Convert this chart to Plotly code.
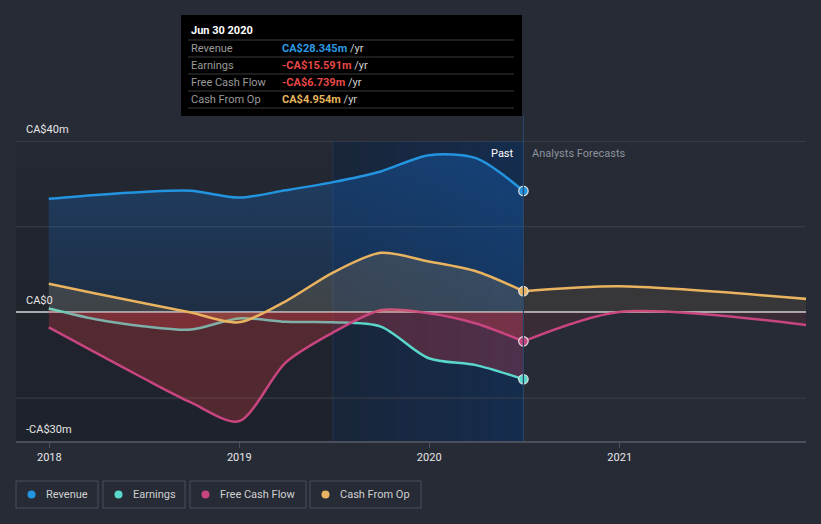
import plotly.graph_objects as go
import pandas as pd

# ---------------- data ----------------
past_dates = ["2017-12-31", "2018-03-31", "2018-06-30", "2018-09-30", "2018-12-31",
              "2019-03-31", "2019-06-30", "2019-09-30", "2019-12-31", "2020-03-31",
              "2020-06-30"]
revenue = [26.5, 27.4, 28.1, 28.4, 26.8, 28.5, 30.4, 32.9, 36.7, 36.0, 28.345]
earnings = [0.9, -1.6, -3.2, -4.0, -1.4, -2.2, -2.3, -3.3, -10.7, -12.3, -15.591]
free_cash_flow = [-3.5, -9.4, -15.3, -21.0, -25.4, -11.7, -4.7, 0.5, -0.2, -2.6, -6.739]
cash_from_op = [6.7, 4.4, 2.2, 0.0, -2.3, 2.6, 9.3, 13.9, 11.9, 9.6, 4.954]

forecast_dates = ["2020-12-31", "2021-12-31"]
free_cash_flow_fc = [0.1, -3.0]
cash_from_op_fc = [6.1, 3.1]

series_names = ["Revenue", "Earnings", "Free Cash Flow", "Cash From Op"]
tooltip_title = "Jun 30 2020"
tooltip_values = ["CA$28.345m", "-CA$15.591m", "-CA$6.739m", "CA$4.954m"]
highlight_start = "2019-06-30"

y_tickvals = [-30, 0, 40]
y_ticktext = ["-CA$30m", "CA$0", "CA$40m"]
y_gridvals = [-20, 20, 40]
x_tickvals = ["2018-01-01", "2019-01-01", "2020-01-01", "2021-01-01"]
x_ticktext = ["2018", "2019", "2020", "2021"]
x_range = ["2017-10-29", "2021-12-25"]
y_range = [-30, 40]

# ---------------- style ----------------
W, H = 821, 524
ML, MR, MT, MB = 16, 15, 141, 83
BG = "#262b36"
FONT = "Roboto"
FS = 11
C_REV = "#2394df"
C_EARN = "#5ad8cc"
C_FCF = "#c8457f"
C_CFO = "#e9b35f"
series_colors = [C_REV, C_EARN, C_FCF, C_CFO]
value_colors = ["#2d9ae5", "#e84848", "#e84848", "#e6b45c"]


def px(x):
    return (x - ML) / (W - ML - MR)


def py(y):
    return (H - MB - y) / (H - MT - MB)


fig = go.Figure()

last = past_dates[-1]
LINE = dict(width=2.5, shape="spline", smoothing=0.8)

# Revenue
fig.add_trace(go.Scatter(x=past_dates, y=revenue, mode="lines", line=dict(color=C_REV, **LINE),
                         fill="tozeroy",
                         fillgradient=dict(type="vertical", start=0, stop=38,
                                           colorscale=[[0, "rgba(20,125,240,0.12)"], [1, "rgba(20,125,240,0.27)"]]),
                         hoverinfo="skip"))
# Earnings
fig.add_trace(go.Scatter(x=past_dates, y=earnings, mode="lines", line=dict(color=C_EARN, **LINE),
                         fill="tozeroy", fillcolor="rgba(230,60,70,0.27)", hoverinfo="skip"))
# Free cash flow
fig.add_trace(go.Scatter(x=past_dates, y=free_cash_flow, mode="lines", line=dict(color=C_FCF, **LINE),
                         fill="tozeroy", fillcolor="rgba(230,60,70,0.26)", hoverinfo="skip"))
fig.add_trace(go.Scatter(x=[last] + forecast_dates, y=[free_cash_flow[-1]] + free_cash_flow_fc, mode="lines",
                         line=dict(color=C_FCF, **LINE),
                         fill="tozeroy", fillcolor="rgba(230,60,70,0.10)", hoverinfo="skip"))
# Cash from op
fig.add_trace(go.Scatter(x=past_dates, y=cash_from_op, mode="lines", line=dict(color=C_CFO, **LINE),
                         fill="tozeroy", fillcolor="rgba(232,177,94,0.16)", hoverinfo="skip"))
fig.add_trace(go.Scatter(x=[last] + forecast_dates, y=[cash_from_op[-1]] + cash_from_op_fc, mode="lines",
                         line=dict(color=C_CFO, **LINE),
                         fill="tozeroy", fillcolor="rgba(232,177,94,0.09)", hoverinfo="skip"))

# end markers
for vals, col in zip([revenue, earnings, free_cash_flow, cash_from_op], series_colors):
    fig.add_trace(go.Scatter(x=[last], y=[vals[-1]], mode="markers",
                             marker=dict(size=9.5, color=col, line=dict(color="#e0e0e0", width=1.2)),
                             hoverinfo="skip"))

shapes = []
# darkened past region (vertical gradient, lighter at top)
n = 30
c0 = (37, 42, 53)
c1 = (30, 34, 42)
for i in range(n):
    t = ((i + 0.5) / n) ** 0.5
    c = tuple(int(round(c0[k] + (c1[k] - c0[k]) * t)) for k in range(3))
    shapes.append(dict(type="rect", xref="x", yref="paper", x0=x_range[0], x1=highlight_start,
                       y0=1 - (i + 1) / n, y1=1 - i / n,
                       fillcolor="rgb(%d,%d,%d)" % c, line=dict(width=0), layer="below"))
# highlighted last-year band
m = 12
edges2 = pd.date_range(pd.Timestamp(highlight_start), pd.Timestamp(last), periods=m + 1)
b0 = (25, 37, 58)
b1 = (21, 45, 78)
for i in range(m):
    t = (i + 0.5) / m
    c = tuple(int(round(b0[k] + (b1[k] - b0[k]) * t)) for k in range(3))
    shapes.append(dict(type="rect", xref="x", yref="paper", x0=edges2[i], x1=edges2[i + 1], y0=0, y1=1,
                       fillcolor="rgb(%d,%d,%d)" % c, line=dict(width=0), layer="below"))
shapes.append(dict(type="line", xref="x", yref="paper", x0=highlight_start, x1=highlight_start, y0=0, y1=1,
                   line=dict(color="#243650", width=1), layer="below"))
# horizontal gridlines
for g in y_gridvals:
    shapes.append(dict(type="line", xref="paper", yref="y", x0=0, x1=1, y0=g, y1=g,
                       line=dict(color="#3c414d" if g < y_range[1] else "#474c58", width=1), layer="below"))
# vertical line at current date
shapes.append(dict(type="line", xref="x", yref="paper", x0=last, x1=last, y0=0, y1=py(116),
                   line=dict(color="#2b4566", width=1.2)))

# tooltip box
shapes.append(dict(type="rect", xref="paper", yref="paper", x0=px(181), x1=px(522), y0=py(116), y1=py(15),
                   fillcolor="#000000", line=dict(width=0)))
for yy in [40, 57, 74, 91, 108]:
    shapes.append(dict(type="line", xref="paper", yref="paper", x0=px(188), x1=px(514), y0=py(yy), y1=py(yy),
                       line=dict(color="#3a3a3a", width=1)))

annotations = []
annotations.append(dict(xref="paper", yref="paper", x=px(189), y=py(31), xanchor="left", yanchor="middle",
                        text="<b>%s</b>" % tooltip_title, showarrow=False,
                        font=dict(family=FONT, size=FS, color="#ffffff")))
for i, (lab, val, vc) in enumerate(zip(series_names, tooltip_values, value_colors)):
    yy = 48.5 + 17 * i
    annotations.append(dict(xref="paper", yref="paper", x=px(189), y=py(yy), xanchor="left", yanchor="middle",
                            text=lab, showarrow=False, font=dict(family=FONT, size=FS, color="#9a9a9a")))
    annotations.append(dict(xref="paper", yref="paper", x=px(280), y=py(yy), xanchor="left", yanchor="middle",
                            text="<span style='color:%s'><b>%s</b></span> /yr" % (vc, val), showarrow=False,
                            font=dict(family=FONT, size=FS, color="#d0d0d0")))

# y-axis labels (drawn above their gridlines)
for v, t in zip(y_tickvals, y_ticktext):
    annotations.append(dict(xref="paper", yref="y", x=px(24), y=v, xanchor="left", yanchor="bottom", yshift=3,
                            text=t, showarrow=False, font=dict(family=FONT, size=FS, color="#e6e6e6")))

# Past / Analysts Forecasts
annotations.append(dict(xref="x", yref="paper", x=last, y=py(153), xanchor="right", yanchor="middle", xshift=-7,
                        text="Past", showarrow=False, font=dict(family=FONT, size=FS, color="#ffffff")))
annotations.append(dict(xref="x", yref="paper", x=last, y=py(153), xanchor="left", yanchor="middle", xshift=7,
                        text="Analysts Forecasts", showarrow=False, font=dict(family=FONT, size=FS, color="#8d929c")))

# custom legend
legend_boxes = [(16, 98), (103, 185), (190, 306), (310, 421)]
for (x0, x1), name, col in zip(legend_boxes, series_names, series_colors):
    shapes.append(dict(type="rect", xref="paper", yref="paper", x0=px(x0), x1=px(x1), y0=py(508), y1=py(481),
                       line=dict(color="#4a4f5b", width=1), fillcolor="rgba(0,0,0,0)"))
    cx = x0 + 15.5
    shapes.append(dict(type="circle", xref="paper", yref="paper", x0=px(cx - 4), x1=px(cx + 4),
                       y0=py(498.5), y1=py(490.5), fillcolor=col, line=dict(width=0)))
    annotations.append(dict(xref="paper", yref="paper", x=px(x0 + 28), y=py(494.5), xanchor="left", yanchor="middle",
                            text=name, showarrow=False, font=dict(family=FONT, size=FS, color="#d0d0d0")))

fig.update_layout(
    width=W, height=H,
    margin=dict(l=ML, r=MR, t=MT, b=MB, pad=0),
    paper_bgcolor=BG, plot_bgcolor=BG,
    showlegend=False,
    shapes=shapes, annotations=annotations,
    font=dict(family=FONT, size=FS, color="#e6e6e6"),
    xaxis=dict(type="date", range=x_range, tickvals=x_tickvals, ticktext=x_ticktext,
               showgrid=False, zeroline=False, showline=True, linecolor="#4a4f5b", linewidth=1.5,
               ticks="outside", ticklen=5, tickcolor="#4a4f5b", tickwidth=1,
               tickfont=dict(family=FONT, size=FS, color="#e6e6e6"), fixedrange=True),
    yaxis=dict(range=y_range, tickvals=y_tickvals, showticklabels=False,
               showgrid=False, zeroline=True, zerolinecolor="#a9a9b0", zerolinewidth=1.5,
               ticks="", showline=False, fixedrange=True),
)

fig.write_html("out.html", config={"displayModeBar": False},
               post_script="document.body.style.margin='0';document.body.style.background='%s';" % BG)
